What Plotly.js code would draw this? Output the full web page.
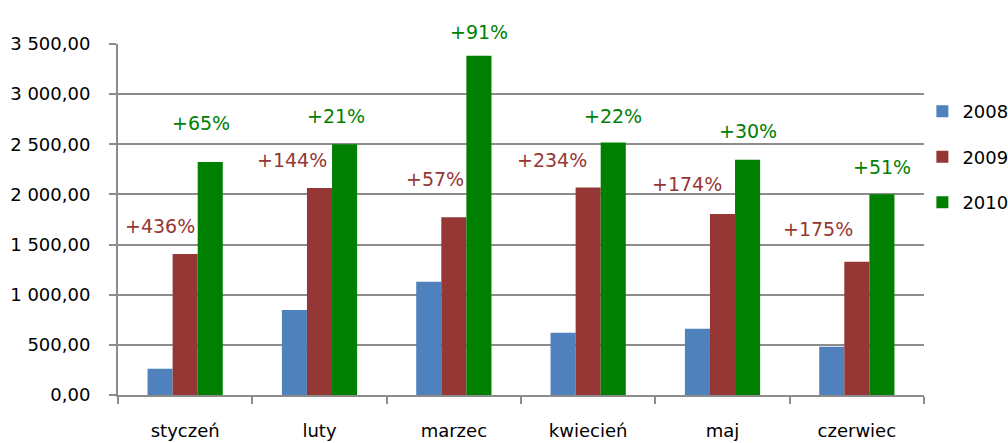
<!DOCTYPE html>
<html>
<head>
<meta charset="utf-8">
<script src="https://cdn.plot.ly/plotly-3.0.1.min.js"></script>
<style>html,body{margin:0;padding:0;background:#fff;}#chart{width:1008px;height:443px;}</style>
</head>
<body>
<div id="chart"></div>
<script>
const months = ["styczeń", "luty", "marzec", "kwiecień", "maj", "czerwiec"];
const v2008 = [262, 847, 1129, 621, 661, 481];
const v2009 = [1407, 2065, 1773, 2069, 1806, 1328];
const v2010 = [2324, 2500, 3383, 2517, 2347, 2002];
const growth2009 = ["+436%", "+144%", "+57%", "+234%", "+174%", "+175%"];
const growth2010 = ["+65%", "+21%", "+91%", "+22%", "+30%", "+51%"];

// label placement (layout only)
const redDx = [-25, -28, -19, -36, -36, -39];
const redDy = [28, 28, 38, 28, 30, 33];
const greenDx = [16, 16, 25, 25, 25, 25];
const greenDy = [39, 28, 24, 27, 29, 27];

const FONT = "DejaVu Sans, Verdana, sans-serif";
const grid = "#8c8c8c";

const traces = [
  {name: "2008", y: v2008, color: "#4f81bd"},
  {name: "2009", y: v2009, color: "#953735"},
  {name: "2010", y: v2010, color: "#008000"}
].map((t, i) => ({
  type: "bar", x: months, y: t.y, name: t.name,
  marker: {color: t.color, line: {width: 0}},
  legendgroup: "g" + i, hoverinfo: "skip"
}));

const annotations = [];
months.forEach((m, i) => {
  annotations.push({x: m, y: v2009[i], text: growth2009[i], showarrow: false,
    xshift: redDx[i], yshift: redDy[i], font: {family: FONT, size: 19, color: "#953735"},
    xanchor: "center", yanchor: "middle"});
  annotations.push({x: m, y: v2010[i], text: growth2010[i], showarrow: false,
    xshift: greenDx[i], yshift: greenDy[i], font: {family: FONT, size: 19, color: "#008000"},
    xanchor: "center", yanchor: "middle"});
});

const layout = {
  width: 1008, height: 443,
  margin: {l: 118, r: 84, t: 44, b: 48, autoexpand: false},
  paper_bgcolor: "#fff", plot_bgcolor: "#fff",
  barmode: "group", bargap: 0.44, bargroupgap: 0,
  font: {family: FONT, size: 18, color: "#000"},
  showlegend: true,
  legend: {x: 0.998, xanchor: "left", y: 0.86, yanchor: "top",
    font: {family: FONT, size: 18, color: "#000"},
    traceorder: "grouped", tracegroupgap: 19, itemwidth: 30,
    bgcolor: "rgba(0,0,0,0)"},
  xaxis: {type: "category", showgrid: false, showline: true, linecolor: grid, linewidth: 2,
    ticks: "outside", tickson: "boundaries", ticklen: 7, tickcolor: grid, tickwidth: 2,
    ticklabelstandoff: 18, tickfont: {family: FONT, size: 18, color: "#000"}, fixedrange: true},
  yaxis: {range: [0, 3500], dtick: 500, tick0: 0, showgrid: true, gridcolor: grid, gridwidth: 2,
    showline: true, linecolor: grid, linewidth: 2, zeroline: false,
    ticks: "outside", ticklen: 7, tickcolor: grid, tickwidth: 2, ticklabelstandoff: 15,
    tickformat: ",.2f", tickfont: {family: FONT, size: 18, color: "#000"}, fixedrange: true},
  separators: ", ",
  annotations: annotations
};

Plotly.newPlot("chart", traces, layout, {displayModeBar: false, staticPlot: true});
</script>
</body>
</html>
